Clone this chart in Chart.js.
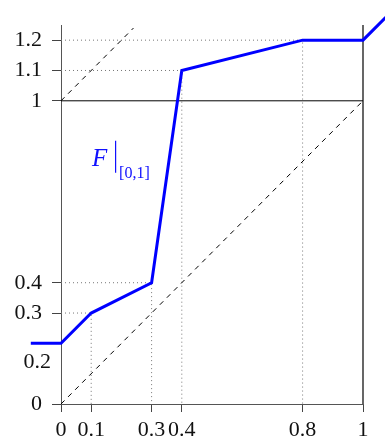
<!DOCTYPE html>
<html lang="en">
<head>
    <meta charset="UTF-8">
    <title>F restricted to [0,1]</title>
    <script src="https://cdn.jsdelivr.net/npm/chart.js"></script>
    <style>
        body { margin: 0; background: #fff; }
        #wrap { width: 385px; height: 437px; }
    </style>
</head>
<body>
    <div id="wrap"><canvas id="chart"></canvas></div>

    <script>
        // piecewise linear F
        const fX = [-0.1, 0, 0.1, 0.3, 0.4, 0.8, 1, 1.1];
        const fY = [0.2, 0.2, 0.3, 0.4, 1.1, 1.2, 1.2, 1.3];

        // dotted guides from the breakpoints to the axes
        const guideX = [0.1, 0.3, 0.4, 0.8];
        const guideY = [0.3, 0.4, 1.1, 1.2];

        // dashed diagonals y = x and y = x + 1
        const diagX = [0, 1];
        const diagY = [0, 1];
        const diag2X = [0, 0.24];
        const diag2Y = [1, 1.24];

        // solid frame lines: y = 1 over [0,1] and x = 1 over [0,1.25]
        const frameY = 1;
        const frameX = 1;
        const frameTop = 1.25;

        // axis ticks
        const xTicks = [0, 0.1, 0.3, 0.4, 0.8, 1];
        const xTickLabels = ['0', '0.1', '0.3', '0.4', '0.8', '1'];
        const yTicks = [0, 0.2, 0.3, 0.4, 1, 1.1, 1.2];
        const yTickLabels = ['0', '0.2', '0.3', '0.4', '1', '1.1', '1.2'];
        const shiftedY = 0.2; // this label sits below its value, without a tick mark

        const serif = "'Liberation Serif', 'DejaVu Serif', serif";
        const pts = (xs, ys) => xs.map((x, i) => ({ x: x, y: ys[i] }));

        const datasets = [];
        datasets.push({
            data: pts(fX, fY), borderColor: '#0000ff', borderWidth: 3,
            clip: false, order: 0, borderJoinStyle: 'miter'
        });
        guideX.forEach((gx, i) => {
            datasets.push({
                data: [{ x: 0, y: guideY[i] }, { x: gx, y: guideY[i] }, { x: gx, y: 0 }],
                borderColor: '#777', borderWidth: 1, borderDash: [1, 3], order: 5
            });
        });
        datasets.push({ data: pts(diagX, diagY), borderColor: '#000', borderWidth: 1, borderDash: [5, 5], order: 3 });
        datasets.push({ data: pts(diag2X, diag2Y), borderColor: '#000', borderWidth: 1, borderDash: [5, 5], order: 3 });
        datasets.push({ data: [{ x: 0, y: frameY }, { x: frameX, y: frameY }], borderColor: '#000', borderWidth: 1, order: 2 });
        datasets.forEach(d => { d.showLine = true; d.pointRadius = 0; d.fill = false; d.tension = 0; });

        // the x = 1 line would not show as a dataset (it sits on the scale's max), so stroke it from the scales
        const frameLine = {
            id: 'frameLine',
            beforeDatasetsDraw(chart) {
                const ctx = chart.ctx;
                const xs = chart.scales.x, ys = chart.scales.y;
                const px = xs.getPixelForValue(frameX);
                ctx.save();
                ctx.strokeStyle = '#000';
                ctx.lineWidth = 1.2;
                ctx.beginPath();
                ctx.moveTo(px, ys.getPixelForValue(0));
                ctx.lineTo(px, ys.getPixelForValue(frameTop));
                ctx.stroke();
                ctx.restore();
            }
        };

        // text drawn on top: the F|[0,1] name and the shifted 0.2 label
        const extraText = {
            id: 'extraText',
            afterDraw(chart) {
                const ctx = chart.ctx;
                const xs = chart.scales.x, ys = chart.scales.y;
                ctx.save();
                ctx.fillStyle = '#111';
                ctx.font = '22px ' + serif;
                ctx.textAlign = 'right';
                ctx.textBaseline = 'middle';
                const i = yTicks.indexOf(shiftedY);
                ctx.fillText(yTickLabels[i], ys.right - 10, ys.getPixelForValue(shiftedY) + 19);

                const px = xs.getPixelForValue(0.103);
                const py = ys.getPixelForValue(0.786);
                ctx.fillStyle = '#1010ff';
                ctx.textAlign = 'left';
                ctx.textBaseline = 'alphabetic';
                ctx.font = 'italic 25px ' + serif;
                ctx.fillText('F', px, py);
                ctx.strokeStyle = '#1010ff';
                ctx.lineWidth = 1.2;
                ctx.beginPath();
                ctx.moveTo(px + 23.5, py - 25);
                ctx.lineTo(px + 23.5, py + 7);
                ctx.stroke();
                ctx.font = '16px ' + serif;
                ctx.fillText('[0,1]', px + 27, py + 12);
                ctx.restore();
            }
        };

        new Chart(document.getElementById('chart'), {
            type: 'scatter',
            data: { datasets: datasets },
            options: {
                responsive: true,
                maintainAspectRatio: false,
                animation: false,
                layout: { padding: { top: 25, right: 22, left: 0, bottom: 0 } },
                plugins: { legend: { display: false }, tooltip: { enabled: false } },
                scales: {
                    x: {
                        type: 'linear',
                        // range set here (not via min/max) so points past x = 1 still get drawn
                        afterDataLimits: s => { s.min = 0; s.max = 1; },
                        afterBuildTicks: s => { s.ticks = xTicks.map(v => ({ value: v })); },
                        afterFit: s => { s.height = 33; },
                        ticks: {
                            autoSkip: false, maxRotation: 0, padding: 5,
                            color: '#111', font: { family: serif, size: 22 },
                            callback: v => xTickLabels[xTicks.indexOf(v)]
                        },
                        grid: { drawOnChartArea: false, tickLength: 8, tickColor: '#444' },
                        border: { color: '#555', width: 1 }
                    },
                    y: {
                        type: 'linear', min: 0, max: 1.25,
                        afterBuildTicks: s => { s.ticks = yTicks.map(v => ({ value: v })); },
                        afterFit: s => { s.width = 61; },
                        ticks: {
                            autoSkip: false, padding: 10,
                            color: '#111', font: { family: serif, size: 22 },
                            callback: v => v === shiftedY ? '' : yTickLabels[yTicks.indexOf(v)]
                        },
                        grid: {
                            drawOnChartArea: false, tickLength: 9,
                            tickColor: c => c.tick && c.tick.value === shiftedY ? 'rgba(0,0,0,0)' : '#444'
                        },
                        border: { color: '#555', width: 1 }
                    }
                }
            },
            plugins: [frameLine, extraText]
        });
    </script>
</body>
</html>
